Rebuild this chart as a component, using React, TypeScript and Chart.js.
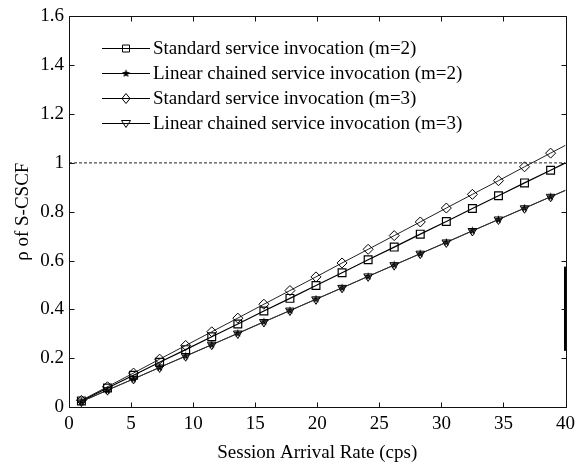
import React, { useEffect, useRef } from 'react';
import { Chart, registerables } from 'chart.js';

Chart.register(...registerables);

// ---- data ----
const arrivalRate = [1, 3.1, 5.2, 7.3, 9.4, 11.5, 13.6, 15.7, 17.8, 19.9, 22, 24.1, 26.2, 28.3, 30.4, 32.5, 34.6, 36.7, 38.8, 40];
const standardM2 = [0.025, 0.078, 0.13, 0.183, 0.235, 0.288, 0.34, 0.393, 0.445, 0.498, 0.55, 0.603, 0.655, 0.708, 0.76, 0.813, 0.865, 0.918, 0.97, 1.0];
const chainedM2 = [0.022, 0.069, 0.115, 0.162, 0.209, 0.255, 0.302, 0.349, 0.395, 0.442, 0.488, 0.535, 0.582, 0.628, 0.675, 0.722, 0.768, 0.815, 0.861, 0.888];
const standardM3 = [0.027, 0.083, 0.139, 0.196, 0.252, 0.308, 0.364, 0.421, 0.477, 0.533, 0.59, 0.646, 0.702, 0.758, 0.815, 0.871, 0.927, 0.984, 1.04, 1.072];
const chainedM3 = [0.022, 0.069, 0.115, 0.162, 0.208, 0.255, 0.301, 0.348, 0.395, 0.441, 0.488, 0.535, 0.581, 0.628, 0.674, 0.721, 0.768, 0.814, 0.861, 0.887];
const limitX = [0, 40];
const limitY = [1, 1];
const markX = [40, 40];
const markY = [0.23, 0.575];
const xTicks = [0, 5, 10, 15, 20, 25, 30, 35, 40];
const yTicks = [0, 0.2, 0.4, 0.6, 0.8, 1, 1.2, 1.4, 1.6];
const seriesLabels = [
  'Standard service invocation (m=2)',
  'Linear chained service invocation (m=2)',
  'Standard service invocation (m=3)',
  'Linear chained service invocation (m=3)',
];
const xTitle = 'Session Arrival Rate (cps)';
const yTitle = 'ρ of S-CSCF';

const FONT = "'Liberation Serif', 'Times New Roman', serif";

function makeStar(size: number): HTMLCanvasElement {
  const c = document.createElement('canvas');
  c.width = size;
  c.height = size;
  const g = c.getContext('2d')!;
  const cx = size / 2, cy = size / 2;
  const R = size / 2 - 0.3, r = R * 0.45;
  g.beginPath();
  for (let i = 0; i < 10; i++) {
    const a = -Math.PI / 2 + (i * Math.PI) / 5;
    const rr = i % 2 === 0 ? R : r;
    const px = cx + Math.cos(a) * rr, py = cy + Math.sin(a) * rr;
    if (i === 0) g.moveTo(px, py); else g.lineTo(px, py);
  }
  g.closePath();
  g.fillStyle = '#000';
  g.fill();
  return c;
}

function pts(xs: number[], ys: number[]) {
  return xs.map((x, i) => ({ x, y: ys[i] }));
}

function radii(r: number) {
  return arrivalRate.map((x, i) => (i === arrivalRate.length - 1 ? 0 : r));
}

export default function App() {
  const ref = useRef<HTMLCanvasElement | null>(null);

  useEffect(() => {
    document.body.style.margin = '0';
    const canvas = ref.current!;
    const star = makeStar(9);

    const drawMarker = (ctx: CanvasRenderingContext2D, kind: string, x: number, y: number) => {
      ctx.save();
      ctx.strokeStyle = '#000';
      ctx.lineWidth = 1;
      ctx.beginPath();
      if (kind === 'rect') {
        ctx.rect(x - 3.5, y - 3.5, 7, 7);
        ctx.stroke();
      } else if (kind === 'rectRot') {
        ctx.moveTo(x, y - 5); ctx.lineTo(x + 4, y); ctx.lineTo(x, y + 5); ctx.lineTo(x - 4, y); ctx.closePath();
        ctx.stroke();
      } else if (kind === 'tri') {
        ctx.moveTo(x - 4.5, y - 3); ctx.lineTo(x + 4.5, y - 3); ctx.lineTo(x, y + 4); ctx.closePath();
        ctx.stroke();
      } else if (kind === 'star') {
        ctx.drawImage(star, x - star.width / 2, y - star.height / 2);
      }
      ctx.restore();
    };

    const boxPlugin = {
      id: 'boxTicksLegend',
      afterDraw(chart: any) {
        const { ctx, chartArea } = chart;
        const { left, right, top, bottom } = chartArea;
        const xs = chart.scales.x, ys = chart.scales.y;
        ctx.save();
        ctx.strokeStyle = '#111';
        ctx.lineWidth = 1;
        const L = Math.round(left) + 0.5, R = Math.round(right) + 0.5;
        const T = Math.round(top) + 0.5, B = Math.round(bottom) + 0.5;
        ctx.beginPath();
        ctx.rect(L, T, R - L, B - T);
        ctx.stroke();
        const tl = 5;
        ctx.beginPath();
        xTicks.forEach((v) => {
          const p = Math.round(xs.getPixelForValue(v)) + 0.5;
          ctx.moveTo(p, B); ctx.lineTo(p, B - tl);
          ctx.moveTo(p, T); ctx.lineTo(p, T + tl);
        });
        yTicks.forEach((v) => {
          const p = Math.round(ys.getPixelForValue(v)) + 0.5;
          ctx.moveTo(L, p); ctx.lineTo(L + tl, p);
          ctx.moveTo(R, p); ctx.lineTo(R - tl, p);
        });
        ctx.stroke();

        // legend
        const kinds = ['rect', 'star', 'rectRot', 'tri'];
        const widths = [1.2, 1.2, 1, 1];
        const x0 = left + 33, x1 = left + 81, mx = left + 57;
        ctx.font = `19px ${FONT}`;
        ctx.fillStyle = '#000';
        ctx.textBaseline = 'middle';
        ctx.textAlign = 'left';
        seriesLabels.forEach((lab, i) => {
          const yy = Math.round(top + 32 + i * 25) + 0.5;
          ctx.beginPath();
          ctx.lineWidth = widths[i];
          ctx.strokeStyle = '#000';
          ctx.moveTo(x0, yy); ctx.lineTo(x1, yy);
          ctx.stroke();
          drawMarker(ctx, kinds[i], mx, yy);
          ctx.fillText(lab, x1 + 3, yy + 1);
        });
        ctx.restore();
      },
    };

    const chart = new Chart(canvas, {
      type: 'line',
      data: {
        datasets: [
          {
            label: 'limit',
            data: pts(limitX, limitY),
            borderColor: '#222',
            borderWidth: 1,
            borderDash: [3, 2],
            pointRadius: 0,
          },
          {
            label: seriesLabels[2],
            data: pts(arrivalRate, standardM3),
            borderColor: '#222',
            borderWidth: 1,
            pointStyle: 'rectRot',
            pointRadius: radii(5),
            pointBorderWidth: 1,
            pointBorderColor: '#000',
            pointBackgroundColor: 'rgba(0,0,0,0)',
          },
          {
            label: seriesLabels[0],
            data: pts(arrivalRate, standardM2),
            borderColor: '#000',
            borderWidth: 1.2,
            pointStyle: 'rect',
            pointRadius: radii(5.5),
            pointBorderWidth: 1.2,
            pointBorderColor: '#000',
            pointBackgroundColor: 'rgba(0,0,0,0)',
          },
          {
            label: seriesLabels[3],
            data: pts(arrivalRate, chainedM3),
            borderColor: '#333',
            borderWidth: 1,
            pointStyle: 'triangle',
            pointRotation: 180,
            pointRadius: radii(5),
            pointBorderWidth: 1,
            pointBorderColor: '#000',
            pointBackgroundColor: 'rgba(0,0,0,0)',
          },
          {
            label: seriesLabels[1],
            data: pts(arrivalRate, chainedM2),
            borderColor: '#222',
            borderWidth: 1,
            pointStyle: star,
            pointRadius: radii(4),
            pointBorderWidth: 0,
          },
          {
            label: 'mark',
            data: pts(markX, markY),
            borderColor: '#000',
            borderWidth: 3,
            pointRadius: 0,
            clip: false,
          } as any,
        ],
      },
      options: {
        responsive: false,
        animation: false,
        events: [],
        layout: { padding: { top: 12, right: 11, left: 0, bottom: 0 } },
        plugins: { legend: { display: false }, tooltip: { enabled: false } },
        scales: {
          x: {
            type: 'linear',
            min: 0,
            max: 40,
            afterFit: (s: any) => { s.height = 57; },
            afterBuildTicks: (s: any) => { s.ticks = xTicks.map((v) => ({ value: v })); },
            grid: { display: false, drawTicks: false },
            border: { display: false },
            ticks: { color: '#000', padding: 6, font: { family: FONT, size: 19 }, maxRotation: 0, callback: (v: any) => String(v) },
            title: {
              display: true,
              text: xTitle,
              color: '#000',
              font: { family: FONT, size: 19 },
              padding: { top: 3, bottom: 0 },
            },
          },
          y: {
            type: 'linear',
            min: 0,
            max: 1.6,
            afterFit: (s: any) => { s.width = 69; },
            afterBuildTicks: (s: any) => { s.ticks = yTicks.map((v) => ({ value: v })); },
            grid: { display: false, drawTicks: false },
            border: { display: false },
            ticks: { color: '#000', padding: 5, font: { family: FONT, size: 19 }, callback: (v: any) => String(v) },
            title: {
              display: true,
              text: yTitle,
              color: '#000',
              font: { family: FONT, size: 19 },
              padding: { top: 12, bottom: 0 },
            },
          },
        },
      },
      plugins: [boxPlugin],
    } as any);

    return () => chart.destroy();
  }, []);

  return <canvas ref={ref} width={581} height={464} style={{ display: 'block' }} />;
}
